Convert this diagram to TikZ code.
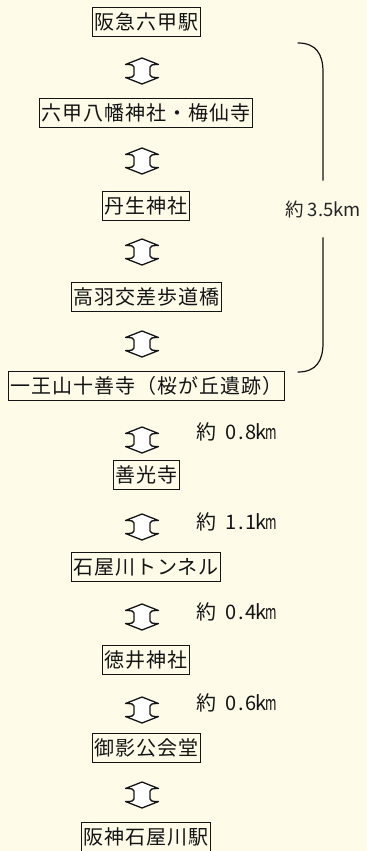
\documentclass[tikz,border=0pt]{standalone}
\usepackage{fontspec}
\usepackage{graphicx}
\newfontfamily\jp[LetterSpace=5]{Noto Sans CJK JP}
\newfontfamily\jplab{Noto Sans CJK JP}
\definecolor{bg}{RGB}{254,251,233}
\definecolor{ink}{RGB}{20,20,20}
\newcommand\hw[1]{\makebox[10pt]{#1}}
\newcommand\hwm{\makebox[10pt]{\scalebox{0.62}[1]{m}}}
\tikzset{
  place/.style={draw=ink, line width=0.8pt, fill=bg, inner xsep=2pt, inner ysep=0pt,
    minimum height=29pt, font=\jp\fontsize{20pt}{24pt}\selectfont, text=ink},
  arrowsty/.style={draw=ink, line width=1.3pt, fill=white, line join=round},
  updn/.pic={
    \path[arrowsty] (0,-13) -- (16.5,-6.5) .. controls (10,-6.5) and (8,-6) .. (8,-4)
      -- (8,4) .. controls (8,6) and (10,6.5) .. (16.5,6.5) -- (0,13)
      -- (-16.5,6.5) .. controls (-10,6.5) and (-8,6) .. (-8,4)
      -- (-8,-4) .. controls (-8,-6) and (-10,-6.5) .. (-16.5,-6.5) -- cycle;
  },
  distlab/.style={anchor=west, inner sep=0pt, text=ink,
    font=\jplab\fontsize{20pt}{24pt}\selectfont},
  bigdist/.style={fill=bg, inner xsep=0pt, inner ysep=0pt, minimum height=57pt, text=black!85,
    font=\jplab\fontsize{18.5pt}{22pt}\selectfont},
  brk/.style={draw=ink, line width=1.2pt, line cap=round}
}
\begin{document}
\begin{tikzpicture}[x=1pt,y=-1pt]
\fill[bg] (0,0) rectangle (367,851);
\useasboundingbox (0,0) rectangle (367,851);

\node[place] (b1)  at (146,22)  {阪急六甲駅};
\node[place] (b2)  at (146,113) {六甲八幡神社・梅仙寺};
\node[place] (b3)  at (146,206) {丹生神社};
\node[place] (b4)  at (146,297) {高羽交差歩道橋};
\node[place] (b5)  at (146,386) {一王山十善寺（桜が丘遺跡）};
\node[place] (b6)  at (146,475) {善光寺};
\node[place] (b7)  at (146,567) {石屋川トンネル};
\node[place] (b8)  at (146,660) {徳井神社};
\node[place] (b9)  at (146,748) {御影公会堂};
\node[place] (b10) at (146,837) {阪神石屋川駅};

\pic (a1) at (142,71)  {updn};
\pic (a2) at (142,161) {updn};
\pic (a3) at (142,252) {updn};
\pic (a4) at (142,344) {updn};
\pic (a5) at (142,440) {updn};
\pic (a6) at (142,527) {updn};
\pic (a7) at (142,617) {updn};
\pic (a8) at (142,710) {updn};
\pic (a9) at (142,795) {updn};

\node[distlab] (d1) at (196,432) {約\hspace{10pt}\hw{0}\hw{.}\hw{8}\hw{k}\hwm};
\node[distlab] (d2) at (196,522) {約\hspace{10pt}\hw{1}\hw{.}\hw{1}\hw{k}\hwm};
\node[distlab] (d3) at (196,612) {約\hspace{10pt}\hw{0}\hw{.}\hw{4}\hw{k}\hwm};
\node[distlab] (d4) at (196,703) {約\hspace{10pt}\hw{0}\hw{.}\hw{6}\hw{k}\hwm};

\node[bigdist] (tot) at (323,209) {約 3.5km};
\coordinate (bt) at (298,43);
\coordinate (bb) at (298,372);
\draw[brk] (bt) .. controls (316,43) and (323,54) .. (323,72) -- (tot.north);
\draw[brk] (tot.south) -- (323,343) .. controls (323,361) and (316,372) .. (bb);
\end{tikzpicture}
\end{document}
